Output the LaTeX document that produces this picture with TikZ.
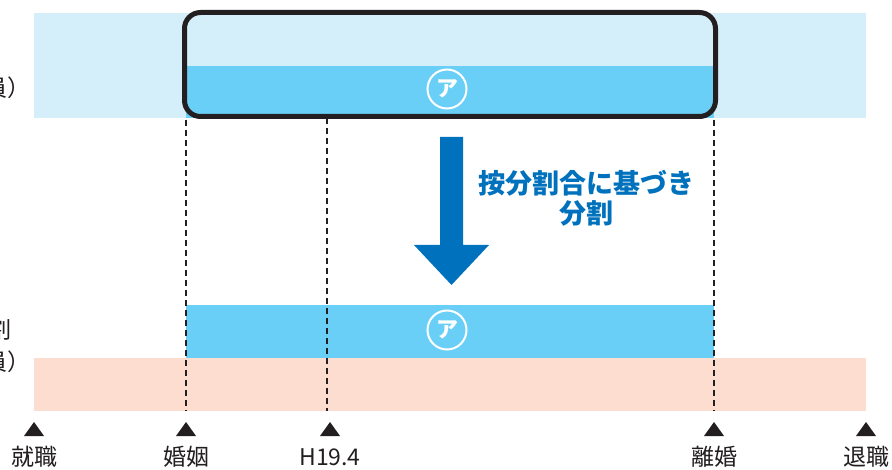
\documentclass[tikz,border=0pt]{standalone}
\usepackage{fontspec}
\setmainfont{Noto Sans CJK JP}
\newfontfamily\cjk{Noto Sans CJK JP}
\definecolor{lightblue}{HTML}{D4EEFA}
\definecolor{midblue}{HTML}{6ACFF6}
\definecolor{pinkband}{HTML}{FCDDD0}
\definecolor{arrowblue}{HTML}{0071BC}
\definecolor{textgray}{HTML}{231F20}
\tikzset{
  band/.style={draw=none},
  guide/.style={draw=textgray, line width=1.8pt, dash pattern=on 6pt off 4pt},
  marker/.style={fill=textgray, draw=none},
  lbl/.style={font=\cjk\fontsize{23}{25}\selectfont, text=textgray, inner sep=0pt},
  circA/.style={circle, draw=white, line width=2pt, minimum size=39pt, inner sep=0pt, text=white, font=\cjk\bfseries\fontsize{22}{22}\selectfont},
}
\begin{document}
\begin{tikzpicture}[x=1pt,y=-1pt]
\clip (0,0) rectangle (892,470);
\fill[white] (0,0) rectangle (892,470);
% top band
\fill[lightblue] (34,13) rectangle (866,118);
\fill[midblue] (186,66) rectangle (714,118);
\draw[textgray, line width=5pt, rounded corners=16pt] (184.5,12.5) rectangle (715.5,116.5);
\node[circA] (a1) at (447,89) {ア};
% bottom bands
\fill[midblue] (186,305) rectangle (714,358);
\fill[pinkband] (34,358) rectangle (866,411);
\node[circA] (a2) at (447,330) {ア};
% dashed guides
\coordinate (d1t) at (186,120); \coordinate (d1b) at (186,411);
\coordinate (d2t) at (327,118); \coordinate (d2b) at (327,411);
\coordinate (d3t) at (714,120); \coordinate (d3b) at (714,411);
\draw[guide] (d1t) -- (d1b);
\draw[guide] (d2t) -- (d2b);
\draw[guide] (d3t) -- (d3b);
% big arrow
\fill[arrowblue] (440,137) -- (463,137) -- (463,245) -- (489,245) -- (451.5,285) -- (414,245) -- (440,245) -- cycle;
\node[font=\cjk\bfseries\fontsize{27}{30}\selectfont, text=arrowblue, align=center, inner sep=0pt] (t) at (586,198) {按分割合に基づき\\分割};
% markers
\foreach \x/\n/\t in {34/m1/就職,186/m2/婚姻,330/m3/H19.4,714/m4/離婚,866/m5/退職}{
  \fill[marker] (\x-10,436) -- (\x+10,436) -- (\x,422) -- cycle;
  \node[lbl] (\n) at (\x,457) {\t};
}
% cut-off left labels (cut by the picture's edge, as in the reference)
\node[lbl, anchor=east] (l1) at (31,88) {員）};
\node[lbl, anchor=east] (l2) at (12,330) {割};
\node[lbl, anchor=east] (l3) at (31,362) {員）};
\end{tikzpicture}
\end{document}
